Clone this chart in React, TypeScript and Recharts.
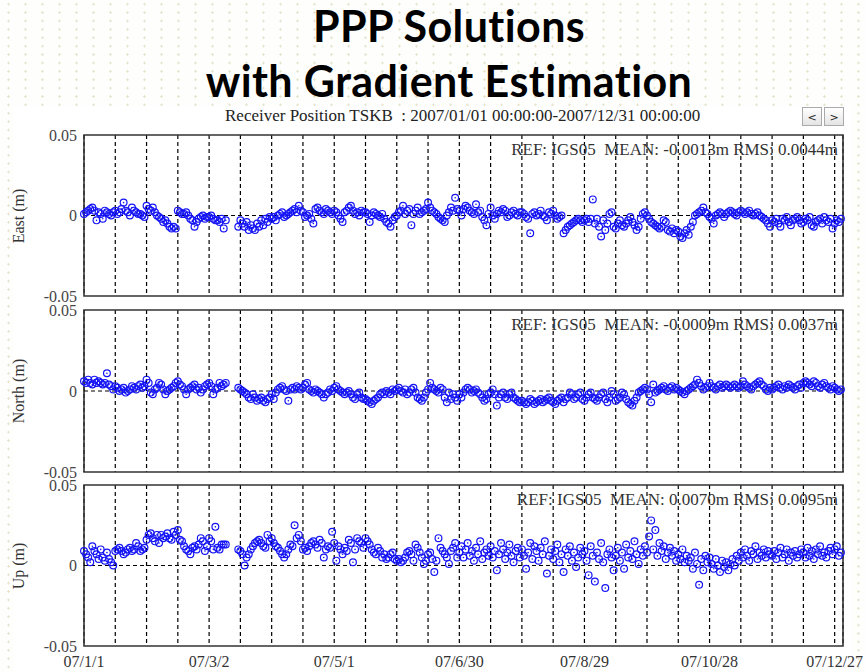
import React from "react";
import { ScatterChart, Scatter, XAxis, YAxis, CartesianGrid, ReferenceLine, ReferenceArea } from "recharts";

// daily offsets in mm, day 0 = 2007/01/01, null = no solution
const EAST_MM: (number | null)[] = [
  1, 2, 3, 4, 5, 3, -3, 2, 1, -2, 3, 2, 1, 0, 2,
  3, 1, 2, 4, 8, 3, 2, 0, 5, 3, 2, 1, 1, 0, -1,
  6, 4, 3, 5, 2, 0, -1, -2, -4, -3, -5, -7, -8, -7, -8,
  3, 2, 1, 1, 2, 0, -2, -3, -7, -4, -2, -1, 0, -2, -1,
  -1, 0, -2, -3, -3, -4, -2, -8, -3, null, null, null, null, null, -7,
  -3, -5, -7, -4, -9, -6, -8, -9, -5, -7, -3, -6, -2, -4, -1,
  -2, -1, -3, 0, 1, 2, -1, 0, 1, 2, 3, 4, 2, 6, 3,
  2, -1, 0, 1, -2, -5, 4, 5, 3, 2, 1, 4, 3, 2, 1,
  3, 2, 0, -2, -4, 2, 3, 5, 6, 3, 1, 2, 0, 3, 2,
  2, 1, -4, 0, 2, 1, 0, -1, 1, -2, -4, -5, -7, -3, -1,
  0, 2, 3, 6, 1, 3, 4, -6, 1, 3, 5, 1, 2, 3, 4,
  8, 5, 3, 2, 1, -1, -2, -3, -4, 0, 2, 5, 3, 11, 4,
  3, 0, 4, 6, 5, 3, 2, 1, 7, 2, 3, -1, -3, -6, 1,
  5, 0, -2, 1, 3, 2, 4, 3, -1, 0, 2, 3, 1, 0, 2,
  2, 1, -1, -2, -11, 1, 2, 0, 1, 3, 0, -1, -3, 2, 1,
  3, 0, -2, -1, 0, -11, -9, -7, -6, -5, -4, -3, -2, -3, -4,
  -3, -2, -4, -2, 10, -5, -2, -7, -13, -3, -9, -5, 1, 2, -7,
  -8, -5, -3, -6, -7, -5, -3, -1, -4, -6, -9, -7, -2, 1, 2,
  0, -2, -4, -5, -6, -7, -8, -7, -3, -4, -9, -10, -8, -11, -9,
  -10, -13, -14, -11, -9, -12, -7, -4, 0, 1, 2, 3, 5, 2, 1,
  -1, -2, -5, 0, 1, 2, 1, -1, 1, 2, 3, 2, 1, 0, 2,
  3, 2, 1, 2, 3, 1, 0, 1, 2, 0, -1, -2, -3, -5, -7,
  -3, -4, -2, -5, -7, -2, -3, -1, -4, -6, -3, -2, -1, -3, -5,
  -4, -2, -3, -1, -6, -7, -4, -3, -2, -5, -1, -3, -4, -2, -8,
  -5, -3, -4, -2,
];

const NORTH_MM: (number | null)[] = [
  6, 5, 7, 5, 4, 7, 5, 6, 5, 4, 5, 11, 4, 3, 1,
  3, 2, 0, 1, 2, -1, 0, 1, 3, 2, 1, 3, 4, 2, 3,
  7, 5, -1, -2, 1, 2, 5, 4, 1, -2, 0, 1, 2, 3, 5,
  6, 4, 3, 1, -2, 1, 2, 3, 4, 1, 2, -1, 1, 3, 4,
  5, 3, -2, 1, 2, 5, 3, 4, 5, null, null, null, null, null, 2,
  1, 0, -1, -2, -4, -5, -2, -4, -6, -5, -4, -6, -7, -5, -4,
  -2, -5, -1, 1, 2, 3, 1, 0, -6, 1, 2, 1, 3, 2, 1,
  2, 4, 5, 1, 0, -1, 1, 0, -1, -2, -4, -2, -1, 1, 0,
  2, 3, 1, 0, -1, -2, -1, 0, -2, -4, -5, -2, -1, -4, -5,
  -5, -6, -7, -8, -6, -5, -4, -2, -1, -2, 0, -1, -2, 1, 0,
  1, 2, 0, -1, 1, -2, -1, 1, 2, -1, -4, -5, -6, -4, -1,
  1, 5, 2, 1, 0, -1, 2, 1, -4, -7, -1, -5, -2, -4, -6,
  -2, -4, -1, 1, 2, 1, -1, 0, 1, -1, -2, -4, -6, -5, -2,
  -1, 1, -2, -9, -4, -2, -1, -4, -5, -2, -1, -4, -5, -6, -7,
  -6, -7, -8, -7, -5, -6, -8, -7, -6, -5, -7, -6, -5, -4, -6,
  -7, -8, -6, -5, -4, -7, -5, -4, -1, -2, -5, -4, -2, -1, -5,
  -6, -4, -2, -1, -4, -5, -6, -4, -2, -1, -5, -7, -4, 0, -2,
  -6, -5, -4, -1, -2, -5, -7, -8, -9, -6, -4, -1, 0, 1, 2,
  1, -2, -7, 4, -1, 0, 1, 2, 3, 1, 0, 2, 3, 1, 2,
  1, 0, -1, -2, 0, 1, 2, 3, 4, 7, 5, 3, 1, 2, 3,
  5, 3, 2, 1, 3, 4, 2, 3, 4, 3, 2, 3, 4, 3, 2,
  3, 6, 4, 3, 2, 1, 3, 4, 5, 6, 4, 3, 1, 0, 2,
  1, 2, 3, 4, 2, 1, 3, 2, 4, 3, 2, 1, 3, 4, 2,
  5, 6, 5, 4, 3, 6, 5, 3, 2, 4, 5, 3, 2, 1, 3,
  2, 1, 0, 1,
];

const UP_MM: (number | null)[] = [
  9, 7, 5, 2, 12, 9, 7, 4, 10, 5, 3, 8, 4, 2, 0,
  9, 10, 11, 9, 7, 8, 10, 11, 9, 10, 14, 12, 9, 10, 11,
  16, 19, 20, 17, 15, 19, 14, 19, 17, 18, 20, 17, 16, 21, 19,
  22, 16, 15, 12, 10, 9, 7, 11, 12, 10, 13, 17, 15, 9, 12,
  17, 15, 10, 24, 11, 10, 13, 13, 13, null, null, null, null, null, 10,
  9, 7, 0, 5, 7, 10, 12, 14, 15, 16, 14, 12, 11, 19, 15,
  17, 14, 12, 11, 9, 7, 5, 7, 10, 13, 12, 25, 17, 19, 15,
  10, 11, 9, 12, 14, 15, 13, 11, 16, 14, 5, 10, 12, 11, 21,
  14, 3, 12, 10, 7, 11, 9, 16, 14, 2, 10, 17, 15, 14, 11,
  17, 15, 13, 10, 8, 7, 11, 9, 5, 7, 4, 5, 7, 8, 4,
  3, 4, 2, 3, 5, 8, 9, 7, 3, 13, 11, 8, 5, 1, 3,
  7, 8, 4, -4, 3, 17, 11, 9, 7, 5, 1, 9, 11, 14, 5,
  8, 12, 5, 10, 14, 6, 9, 3, 11, 7, 15, 4, 8, 10, 6,
  12, 5, 9, -3, 7, 14, 10, 4, 8, 13, 6, 2, 9, 11, 5,
  10, 6, -2, 8, 14, 4, 12, 9, 3, 11, 7, 15, -5, 6, 10,
  4, 9, 13, 2, 7, -4, 10, 6, 12, 3, 8, -1, 5, 11, 7,
  9, 3, -6, 12, 6, -10, 8, 4, 14, 2, -14, 7, 10, 5, -3,
  6, 11, 3, 8, -2, 13, 5, 9, 4, 15, 7, 1, 10, 6, 12,
  8, 18, 28, 10, 22, 6, 14, 9, 12, 4, 8, 11, 6, 9, 3,
  7, 4, 10, 2, 6, 3, 5, -2, 8, 1, -12, 4, -3, 6, 2,
  5, 1, -2, 4, 0, -4, 3, -1, 2, -3, 1, 4, 0, 6, 3,
  8, 5, 10, 6, 3, 9, 7, 12, 4, 8, 6, 10, 5, 9, 7,
  6, 9, 4, 8, 11, 5, 7, 10, 3, 8, 6, 9, 5, 7, 10,
  8, 5, 11, 6, 9, 4, 10, 7, 12, 6, 8, 5, 9, 11, 7,
  10, 12, 6, 8,
];

const GRID_DAYS = [0, 15, 30, 45, 60, 75, 90, 105, 120, 135, 150, 165, 180, 195, 210, 225, 240, 255, 270, 285, 300, 315, 330, 345, 360];
const LABEL_DAYS = [0, 60, 120, 180, 240, 300, 360];
const LABEL_TEXT = ["07/1/1", "07/3/2", "07/5/1", "07/6/30", "07/8/29", "07/10/28", "07/12/27"];
const Y_TICKS = [-0.05, 0, 0.05];

const SERIF = "'Liberation Serif', 'Times New Roman', serif";
const BLUE = "#1414f5";

const Marker = (props: any) => {
  const { cx, cy } = props;
  if (cx == null || cy == null) return null;
  return (
    <g>
      <circle cx={cx} cy={cy} r={3.4} fill="none" stroke={BLUE} strokeWidth={1.2} />
      <circle cx={cx} cy={cy} r={0.8} fill={BLUE} />
    </g>
  );
};

interface PanelProps {
  values: (number | null)[];
  axisName: string;
  stats: string;
  plotTop: number;
  plotHeight: number;
  showDates?: boolean;
}

const Panel = ({ values, axisName, stats, plotTop, plotHeight, showDates }: PanelProps) => {
  const data = values
    .map((v, i) => (v === null ? null : { day: i, pos: v / 1000 }))
    .filter((p) => p !== null);
  const axisH = showDates ? 28 : 0;
  const height = plotHeight + 10 + (showDates ? axisH : 10);

  return (
    <>
      <div style={{ position: "absolute", left: 0, top: plotTop - 10, width: 866, height }}>
        <ScatterChart width={866} height={height} margin={{ top: 10, right: 23, bottom: showDates ? 0 : 10, left: 0 }}>
          <CartesianGrid horizontal={false} stroke="#000" strokeDasharray="4 3" strokeWidth={1.2} />
          <XAxis
            type="number"
            dataKey="day"
            domain={[0, 364]}
            ticks={GRID_DAYS}
            interval={0}
            hide={!showDates}
            axisLine={false}
            tickLine={false}
            tickMargin={4}
            height={axisH}
            tick={{ fill: "#333", fontSize: 16, fontFamily: SERIF }}
            tickFormatter={(d: number) => {
              const k = LABEL_DAYS.indexOf(d);
              return k >= 0 ? LABEL_TEXT[k] : "";
            }}
          />
          <XAxis xAxisId="inB" type="number" domain={[0, 364]} ticks={GRID_DAYS} mirror axisLine={false} tick={false} tickSize={8} stroke="#000" />
          <XAxis xAxisId="inT" orientation="top" type="number" domain={[0, 364]} ticks={GRID_DAYS} mirror axisLine={false} tick={false} tickSize={8} stroke="#000" />
          <YAxis
            type="number"
            dataKey="pos"
            domain={[-0.05, 0.05]}
            ticks={Y_TICKS}
            width={84}
            axisLine={false}
            tickLine={false}
            tickSize={0}
            tickMargin={7}
            tick={{ fill: "#444", fontSize: 16, fontFamily: SERIF }}
            tickFormatter={(v: number) => (v === 0 ? "0" : v.toFixed(2))}
          />
          <ReferenceLine y={0} stroke="#000" strokeDasharray="4 3" strokeWidth={1.2} />
          <ReferenceArea x1={0} x2={364} y1={-0.05} y2={0.05} fill="none" stroke="#333" strokeWidth={1.6} />
          <Scatter data={data} shape={<Marker />} isAnimationActive={false} />
        </ScatterChart>
      </div>
      <div
        style={{
          position: "absolute", left: 19, top: plotTop + plotHeight / 2, transform: "translate(-50%, -50%) rotate(-90deg)",
          fontFamily: SERIF, fontSize: 16, color: "#333", whiteSpace: "nowrap",
        }}
      >
        {axisName}
      </div>
      <div
        style={{
          position: "absolute", right: 866 - 838, top: plotTop + 6, fontFamily: SERIF, fontSize: 17,
          color: "#333", whiteSpace: "pre", lineHeight: "17px",
        }}
      >
        {stats}
      </div>
    </>
  );
};

const btn: React.CSSProperties = {
  position: "absolute", top: 107, width: 20, height: 19, border: "1px solid #aaa",
  background: "linear-gradient(#ffffff, #e4e4e4)", fontFamily: "'DejaVu Sans', sans-serif", fontSize: 11,
  textAlign: "center", lineHeight: "19px", color: "#222", boxSizing: "border-box",
};

const titleStyle: React.CSSProperties = {
  position: "absolute", left: 0, width: 898, textAlign: "center", fontFamily: "Lato, sans-serif",
  fontWeight: 700, fontSize: 43, lineHeight: "43px", letterSpacing: 0.4, color: "#000",
};

export default function App() {
  return (
    <div
      style={{
        position: "absolute", left: 0, top: 0, width: 866, height: 672, overflow: "hidden",
        backgroundColor: "#fefefd",
        backgroundImage: "radial-gradient(circle, #e6e3cf 1px, transparent 1.3px)",
        backgroundSize: "17px 8.4px",
      }}
    >
      <div style={{ position: "absolute", left: 14, top: 106, width: 838, height: 566, background: "#fff" }} />
      <div style={{ ...titleStyle, top: 4 }}>PPP Solutions</div>
      <div style={{ ...titleStyle, top: 59 }}>with Gradient Estimation</div>
      <div style={{ position: "absolute", left: 225, top: 106, fontFamily: SERIF, fontSize: 17, color: "#222", whiteSpace: "pre" }}>
        {"Receiver Position TSKB  : 2007/01/01 00:00:00-2007/12/31 00:00:00"}
      </div>
      <div style={{ ...btn, left: 802 }}>&lt;</div>
      <div style={{ ...btn, left: 824 }}>&gt;</div>
      <Panel values={EAST_MM} axisName="East (m)" stats={"REF: IGS05  MEAN: -0.0013m RMS: 0.0044m"} plotTop={135} plotHeight={161} />
      <Panel values={NORTH_MM} axisName="North (m)" stats={"REF: IGS05  MEAN: -0.0009m RMS: 0.0037m"} plotTop={310} plotHeight={162} />
      <Panel values={UP_MM} axisName="Up (m)" stats={"REF: IGS05  MEAN: 0.0070m RMS: 0.0095m"} plotTop={485} plotHeight={161} showDates />
    </div>
  );
}
